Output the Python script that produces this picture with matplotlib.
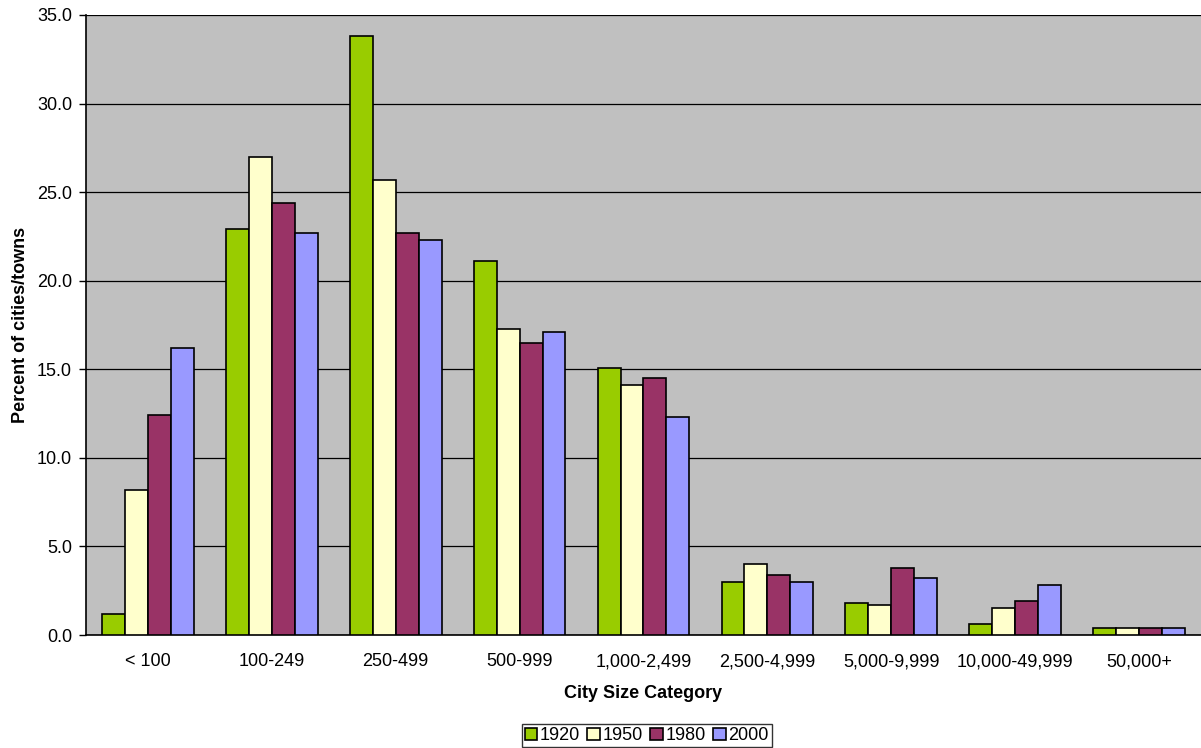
import matplotlib.pyplot as plt
import numpy as np

plt.rcParams['font.family'] = ['Liberation Sans', 'DejaVu Sans']

# city size categories and series (percent of cities/towns)
categories = ['< 100', '100-249', '250-499', '500-999', '1,000-2,499',
              '2,500-4,999', '5,000-9,999', '10,000-49,999', '50,000+']
years = ['1920', '1950', '1980', '2000']
pct1920 = [1.2, 22.9, 33.8, 21.1, 15.1, 3.0, 1.8, 0.6, 0.4]
pct1950 = [8.2, 27.0, 25.7, 17.3, 14.1, 4.0, 1.7, 1.5, 0.4]
pct1980 = [12.4, 24.4, 22.7, 16.5, 14.5, 3.4, 3.8, 1.9, 0.4]
pct2000 = [16.2, 22.7, 22.3, 17.1, 12.3, 3.0, 3.2, 2.8, 0.4]
colors = ['#99CC00', '#FFFFCC', '#993366', '#9999FF']

series = [pct1920, pct1950, pct1980, pct2000]

# set up figure
fig = plt.figure(figsize=(12.01, 7.48), dpi=100)
ax = fig.add_axes([0.0716, 0.151, 0.9284, 0.829])
ax.set_facecolor('#C0C0C0')

# draw the grouped bars
x = np.arange(len(categories))
barWidth = 0.185
for i, (vals, col, yr) in enumerate(zip(series, colors, years)):
    ax.bar(x + (i - 1.5) * barWidth, vals, barWidth, color=col,
           edgecolor='black', linewidth=1.2, label=yr, zorder=3)

# axes, grid and ticks
ax.set_xlim(-0.5, len(categories) - 0.5)
ax.set_ylim(0, 35)
ax.set_yticks(np.arange(0, 35.1, 5))
ax.set_yticklabels(['%.1f' % v for v in np.arange(0, 35.1, 5)], fontsize=13)
ax.yaxis.grid(True, color='black', linewidth=0.9, zorder=1)
ax.set_axisbelow(True)
ax.set_xticks(x)
ax.set_xticklabels(categories, fontsize=13)
ax.tick_params(axis='x', length=0, pad=13)
ax.tick_params(axis='y', length=5, width=1, pad=5)
for side in ['top', 'right']:
    ax.spines[side].set_visible(False)
ax.spines['left'].set_linewidth(1.2)
ax.spines['bottom'].set_linewidth(1.2)

ax.set_xlabel('City Size Category', fontsize=13, fontweight='bold', labelpad=11)
ax.set_ylabel('Percent of cities/towns', fontsize=13, fontweight='bold', labelpad=6)

# legend below the plot
leg = fig.legend(loc='center', bbox_to_anchor=(0.5385, 0.0165), ncol=4,
                 fontsize=13, frameon=True, fancybox=False, handlelength=0.7,
                 handleheight=0.7, handletextpad=0.15, columnspacing=0.4,
                 borderpad=0.15, borderaxespad=0, edgecolor='black')
leg.get_frame().set_linewidth(1)

fig.savefig('out.png', dpi=100)
